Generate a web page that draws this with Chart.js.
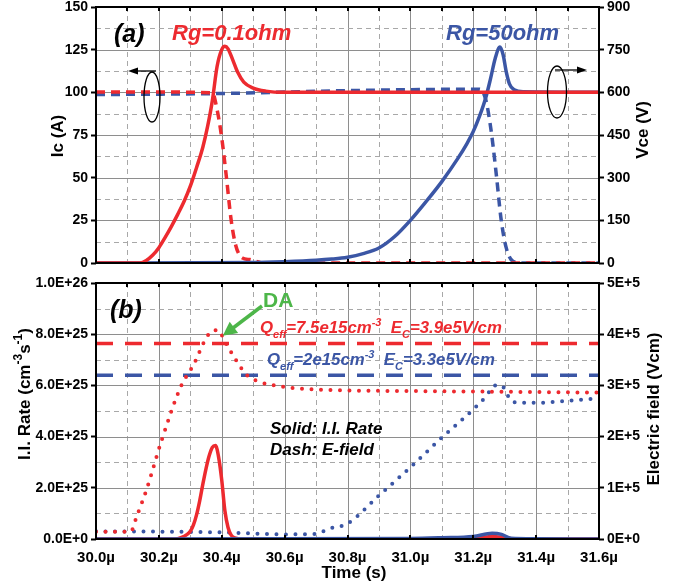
<!DOCTYPE html>
<html>
<head>
<meta charset="utf-8">
<script src="https://cdn.jsdelivr.net/npm/chart.js@4.4.0/dist/chart.umd.min.js"></script>
<style>
  html, body { margin: 0; padding: 0; background: #fff; }
  #wrap { position: relative; width: 679px; height: 586px; }
  canvas { position: absolute; left: 0; }
  #cTop { top: 0; }
  #cBot { top: 270px; }
</style>
</head>
<body>
<div id="wrap">
  <canvas id="cTop" width="679" height="270"></canvas>
  <canvas id="cBot" width="679" height="316"></canvas>
</div>
<script>
const red = '#ED2A2F';
const blue = '#3B56A5';
const green = '#4DB649';
const FONT = '"Liberation Sans", Arial, sans-serif';

// ---- axes / ticks
const timeTicks = [30.0, 30.2, 30.4, 30.6, 30.8, 31.0, 31.2, 31.4, 31.6];
const timeLabels = ['30.0µ', '30.2µ', '30.4µ', '30.6µ', '30.8µ', '31.0µ', '31.2µ', '31.4µ', '31.6µ'];
const timeGrid = [30.1, 30.2, 30.3, 30.4, 30.5, 30.6, 30.7, 30.8, 30.9, 31.0, 31.1, 31.2, 31.3, 31.4, 31.5];
const icTicks = [0, 25, 50, 75, 100, 125, 150];
const icGrid = [12.5, 25, 37.5, 50, 62.5, 75, 87.5, 100, 112.5, 125, 137.5];
const vceTicks = [0, 150, 300, 450, 600, 750, 900];
const rateTicks = [0, 2, 4, 6, 8, 10];            // x 1E+25
const rateLabels = ['0.0E+0', '2.0E+25', '4.0E+25', '6.0E+25', '8.0E+25', '1.0E+26'];
const rateGrid = [1, 2, 3, 4, 5, 6, 7, 8, 9];
const fieldTicks = [0, 1, 2, 3, 4, 5];             // x 1E+5
const fieldLabels = ['0E+0', '1E+5', '2E+5', '3E+5', '4E+5', '5E+5'];

// ---- panel (a): Ic (A) and Vce (V), time in µs
const icTimeA = [30.0, 30.14, 30.16, 30.18, 30.2, 30.22, 30.24, 30.26, 30.28, 30.3, 30.32, 30.34, 30.355, 30.37, 30.385, 30.4, 30.41, 30.42, 30.435, 30.45, 30.47, 30.5, 30.54, 30.6, 31.6];
const icA     = [0, 0, 1.5, 4.5, 9, 15, 21.5, 28.5, 36, 45, 56, 68, 80, 95, 115, 125, 127, 125.5, 119, 112, 106, 102.5, 100.7, 100, 100];
const vceTimeA = [30.0, 30.2, 30.37, 30.385, 30.4, 30.415, 30.43, 30.445, 30.465, 30.49, 30.51, 30.53, 31.6];
const vceA     = [601, 601, 598, 540, 440, 300, 150, 60, 18, 12, 6, 0, 0];
const icTimeB = [30.0, 30.5, 30.6, 30.7, 30.75, 30.8, 30.85, 30.9, 30.95, 31.0, 31.05, 31.1, 31.15, 31.18, 31.2, 31.22, 31.24, 31.255, 31.27, 31.285, 31.295, 31.305, 31.315, 31.33, 31.36, 31.6];
const icB     = [0, 0.3, 0.8, 1.6, 2.3, 3.4, 5.5, 8.8, 15.5, 25, 36, 47.7, 61, 70, 77, 86, 97, 108, 120, 126.5, 122, 112, 105, 101.5, 100.3, 100];
const vceTimeB = [30.0, 30.4, 30.8, 31.22, 31.24, 31.258, 31.274, 31.289, 31.305, 31.326, 31.35, 31.6];
const vceB     = [592, 596, 606, 611, 573, 456, 304, 150, 53, 6, 0, 0];

// ---- panel (b): I.I. rate (x1E+25) and E-field (x1E+5)
const rateTimeA = [30.0, 30.25, 30.27, 30.29, 30.3, 30.31, 30.32, 30.33, 30.34, 30.35, 30.36, 30.37, 30.38, 30.39, 30.4, 30.41, 30.42, 30.43, 30.445, 30.46, 31.15, 31.22, 31.26, 31.3, 31.33, 31.6];
const rateA     = [0, 0, 0.05, 0.18, 0.3, 0.55, 0.95, 1.5, 2.15, 2.75, 3.25, 3.58, 3.65, 3.2, 2.3, 1.1, 0.45, 0.15, 0.03, 0, 0, 0.05, 0.1, 0.05, 0, 0];
const rateTimeB = [30.0, 31.0, 31.1, 31.2, 31.26, 31.29, 31.32, 31.4, 31.6];
const rateB     = [0, 0.02, 0.05, 0.1, 0.22, 0.18, 0.03, 0.01, 0];
const fieldTimeA = [30.0, 30.11, 30.13, 30.16, 30.21, 30.27, 30.31, 30.35, 30.37, 30.39, 30.405, 30.42, 30.45, 30.48, 30.52, 30.6, 30.7, 30.8, 31.0, 31.2, 31.4, 31.6];
const fieldA     = [0.14, 0.14, 0.45, 0.95, 1.95, 2.98, 3.4, 3.92, 4.07, 4.08, 3.92, 3.75, 3.45, 3.2, 3.07, 2.97, 2.92, 2.9, 2.89, 2.88, 2.87, 2.86];
const fieldTimeB = [30.0, 30.4, 30.6, 30.7, 30.74, 30.8, 30.9, 31.0, 31.1, 31.2, 31.24, 31.27, 31.29, 31.31, 31.33, 31.4, 31.5, 31.6];
const fieldB     = [0.15, 0.13, 0.09, 0.1, 0.2, 0.3, 0.85, 1.4, 1.98, 2.53, 2.78, 3.0, 3.0, 2.8, 2.67, 2.66, 2.7, 2.75];
const critTime = [30.0, 31.6];
const critA = [3.82, 3.82];   // Ec = 3.9e5 V/cm
const critB = [3.2, 3.2];     // Ec = 3.3e5 V/cm

const pts = (xs, ys) => xs.map((x, i) => ({ x: x, y: ys[i] }));

const tickFont = { family: FONT, size: 14, weight: 'bold' };

function yScale(pos, min, max, ticks, labels, width) {
  return {
    type: 'linear', position: pos, min: min, max: max,
    afterBuildTicks: s => { s.ticks = ticks.map(v => ({ value: v })); },
    afterFit: s => { s.width = width; s.paddingTop = 0; s.paddingBottom = 0; },
    ticks: { font: tickFont, color: '#000', padding: 3,
             callback: (v, i) => labels ? labels[i] : String(v) },
    grid: { drawOnChartArea: false, drawTicks: true, tickLength: 5, tickWidth: 2, tickColor: '#000' },
    border: { display: false }
  };
}

// text with sub/superscripts
function rich(ctx, parts, x, y, size) {
  const small = Math.round(size * 0.68);
  const f = s => 'italic bold ' + s + 'px ' + FONT;
  let cx = x;
  ctx.textAlign = 'left';
  ctx.textBaseline = 'alphabetic';
  parts.forEach(p => {
    ctx.font = f(p[1] === 'n' ? size : small);
    const dy = p[1] === 'sup' ? -size * 0.42 : p[1] === 'sub' ? size * 0.28 : 0;
    ctx.fillText(p[0], cx, y + dy);
    cx += ctx.measureText(p[0]).width;
  });
}

function drawGrid(chart, yId, yGrid) {
  const { ctx, chartArea: a, scales } = chart;
  ctx.save();
  ctx.lineWidth = 1;
  timeGrid.forEach((t, i) => {
    const x = Math.round(scales.x.getPixelForValue(t)) + 0.5;
    const major = i % 2 === 1;
    ctx.strokeStyle = major ? '#8e8e8e' : '#a8a8a8';
    ctx.setLineDash(major ? [] : [5, 4]);
    ctx.beginPath(); ctx.moveTo(x, a.top); ctx.lineTo(x, a.bottom); ctx.stroke();
  });
  yGrid.forEach((v, i) => {
    const y = Math.round(scales[yId].getPixelForValue(v)) + 0.5;
    const major = i % 2 === 1;
    ctx.strokeStyle = major ? '#8e8e8e' : '#a8a8a8';
    ctx.setLineDash(major ? [] : [5, 4]);
    ctx.beginPath(); ctx.moveTo(a.left, y); ctx.lineTo(a.right, y); ctx.stroke();
  });
  ctx.restore();
}

function drawFrame(chart) {
  const { ctx, chartArea: a, scales } = chart;
  ctx.save();
  ctx.strokeStyle = '#000';
  ctx.lineWidth = 2;
  ctx.setLineDash([]);
  ctx.strokeRect(a.left, a.top, a.right - a.left, a.bottom - a.top);
  timeGrid.forEach((t, i) => {
    const x = Math.round(scales.x.getPixelForValue(t));
    ctx.beginPath(); ctx.moveTo(x, a.top); ctx.lineTo(x, a.top + 4); ctx.stroke();
    if (i % 2 === 1) { ctx.beginPath(); ctx.moveTo(x, a.bottom); ctx.lineTo(x, a.bottom - 4); ctx.stroke(); }
  });
  ctx.restore();
}

function vTitle(ctx, parts, x, y, size) {
  ctx.save();
  ctx.translate(x, y);
  ctx.rotate(-Math.PI / 2);
  ctx.fillStyle = '#000';
  const small = Math.round(size * 0.72);
  const f = p => 'bold ' + (p[1] === 'n' ? size : small) + 'px ' + FONT;
  let w = 0;
  parts.forEach(p => { ctx.font = f(p); w += ctx.measureText(p[0]).width; });
  let cx = -w / 2;
  ctx.textAlign = 'left';
  ctx.textBaseline = 'middle';
  parts.forEach(p => {
    ctx.font = f(p);
    ctx.fillText(p[0], cx, p[1] === 'sup' ? -size * 0.38 : 0);
    cx += ctx.measureText(p[0]).width;
  });
  ctx.restore();
}

function loopArrow(ctx, cx, cy, rx, ry, x0, x1, ay) {
  ctx.save();
  ctx.strokeStyle = '#000';
  ctx.fillStyle = '#000';
  ctx.lineWidth = 1.3;
  ctx.beginPath(); ctx.ellipse(cx, cy, rx, ry, 0, 0, Math.PI * 2); ctx.stroke();
  ctx.beginPath(); ctx.moveTo(x0, ay); ctx.lineTo(x1, ay); ctx.stroke();
  const d = Math.sign(x1 - x0);
  ctx.beginPath();
  ctx.moveTo(x1 + d * 3, ay);
  ctx.lineTo(x1 - d * 7, ay - 3.5);
  ctx.lineTo(x1 - d * 7, ay + 3.5);
  ctx.closePath(); ctx.fill();
  ctx.restore();
}

const baseOpts = {
  responsive: false,
  animation: false,
  elements: { point: { radius: 0 }, line: { cubicInterpolationMode: 'monotone', fill: false } },
  plugins: { legend: { display: false }, tooltip: { enabled: false } }
};

// ---------------- panel (a)
new Chart(document.getElementById('cTop'), {
  type: 'line',
  data: {
    datasets: [
      { data: pts(icTimeA, icA), yAxisID: 'yL', borderColor: red, borderWidth: 3.5, order: 1 },
      { data: pts(icTimeB, icB), yAxisID: 'yL', borderColor: blue, borderWidth: 3.5, order: 2 },
      { data: pts(vceTimeA, vceA), yAxisID: 'yR', borderColor: red, borderWidth: 3.5, borderDash: [9, 6], order: 3 },
      { data: pts(vceTimeB, vceB), yAxisID: 'yR', borderColor: blue, borderWidth: 3.5, borderDash: [9, 6], order: 4 }
    ]
  },
  options: Object.assign({}, baseOpts, {
    layout: { padding: { top: 7 } },
    scales: {
      x: { type: 'linear', min: 30, max: 31.6,
           ticks: { display: false }, grid: { display: false }, border: { display: false },
           afterFit: s => { s.height = 7; } },
      yL: yScale('left', 0, 150, icTicks, null, 96),
      yR: yScale('right', 0, 900, vceTicks, null, 80)
    }
  }),
  plugins: [{
    id: 'deco',
    beforeDatasetsDraw: c => drawGrid(c, 'yL', icGrid),
    afterDatasetsDraw: c => {
      const ctx = c.ctx;
      drawFrame(c);
      ctx.save();
      ctx.textBaseline = 'alphabetic';
      ctx.textAlign = 'left';
      ctx.font = 'italic bold 25px ' + FONT;
      ctx.fillStyle = '#000';
      ctx.fillText('(a)', 114, 42);
      ctx.font = 'italic bold 22px ' + FONT;
      ctx.fillStyle = red;
      ctx.fillText('Rg=0.1ohm', 172, 40);
      ctx.fillStyle = blue;
      ctx.fillText('Rg=50ohm', 446, 40);
      ctx.restore();
      loopArrow(ctx, 152, 97, 8, 25, 156, 131, 71);
      loopArrow(ctx, 557, 92, 9.5, 26, 555, 584, 70);
      vTitle(ctx, [['Ic (A)', 'n']], 58, 136, 17);
      vTitle(ctx, [['Vce (V)', 'n']], 643, 130, 17);
    }
  }]
});

// ---------------- panel (b)
new Chart(document.getElementById('cBot'), {
  type: 'line',
  data: {
    datasets: [
      { data: pts(rateTimeA, rateA), yAxisID: 'yL', borderColor: red, borderWidth: 3.5, order: 2 },
      { data: pts(rateTimeB, rateB), yAxisID: 'yL', borderColor: blue, borderWidth: 3.5, order: 1 },
      { data: pts(fieldTimeA, fieldA), yAxisID: 'yR', borderColor: red, borderWidth: 4, borderDash: [0, 9.5], borderCapStyle: 'round', order: 3 },
      { data: pts(fieldTimeB, fieldB), yAxisID: 'yR', borderColor: blue, borderWidth: 4, borderDash: [0, 9.5], borderCapStyle: 'round', order: 4 },
      { data: pts(critTime, critA), yAxisID: 'yR', borderColor: red, borderWidth: 3.5, borderDash: [17, 12], order: 5 },
      { data: pts(critTime, critB), yAxisID: 'yR', borderColor: blue, borderWidth: 3.5, borderDash: [17, 12], order: 6 }
    ]
  },
  options: Object.assign({}, baseOpts, {
    layout: { padding: { top: 13 } },
    scales: {
      x: { type: 'linear', min: 30, max: 31.6,
           afterBuildTicks: s => { s.ticks = timeTicks.map(v => ({ value: v })); },
           afterFit: s => { s.height = 47; s.paddingLeft = 0; s.paddingRight = 0; },
           ticks: { font: { family: FONT, size: 15, weight: 'bold' }, color: '#000', padding: 2, maxRotation: 0,
                    callback: (v, i) => timeLabels[i] },
           grid: { display: false }, border: { display: false } },
      yL: yScale('left', 0, 10, rateTicks, rateLabels, 96),
      yR: yScale('right', 0, 5, fieldTicks, fieldLabels, 80)
    }
  }),
  plugins: [{
    id: 'deco',
    beforeDatasetsDraw: c => drawGrid(c, 'yL', rateGrid),
    afterDatasetsDraw: c => {
      const ctx = c.ctx;
      drawFrame(c);
      ctx.save();
      ctx.textBaseline = 'alphabetic';
      ctx.textAlign = 'left';
      ctx.font = 'italic bold 25px ' + FONT;
      ctx.fillStyle = '#000';
      ctx.fillText('(b)', 110, 48);
      ctx.font = 'bold 21px ' + FONT;
      ctx.fillStyle = green;
      ctx.fillText('DA', 263, 37);
      // green arrow onto the red E-field peak
      const tx = c.scales.x.getPixelForValue(30.4) + 1;
      const ty = c.scales.yR.getPixelForValue(3.93) - 2;
      ctx.strokeStyle = green;
      ctx.lineWidth = 3.5;
      const sx = 262, sy = 36;
      const ang = Math.atan2(ty - sy, tx - sx);
      ctx.beginPath();
      ctx.moveTo(sx, sy);
      ctx.lineTo(tx - 10 * Math.cos(ang), ty - 10 * Math.sin(ang));
      ctx.stroke();
      ctx.beginPath();
      ctx.moveTo(tx, ty);
      ctx.lineTo(tx - 14 * Math.cos(ang) + 7 * Math.sin(ang), ty - 14 * Math.sin(ang) - 7 * Math.cos(ang));
      ctx.lineTo(tx - 14 * Math.cos(ang) - 7 * Math.sin(ang), ty - 14 * Math.sin(ang) + 7 * Math.cos(ang));
      ctx.closePath();
      ctx.fillStyle = green;
      ctx.fill();
      ctx.fillStyle = red;
      rich(ctx, [['Q', 'n'], ['eff', 'sub'], ['=7.5e15cm', 'n'], ['-3', 'sup'], ['  E', 'n'], ['C', 'sub'], ['=3.9e5V/cm', 'n']], 260, 63, 16.8);
      ctx.fillStyle = blue;
      rich(ctx, [['Q', 'n'], ['eff', 'sub'], ['=2e15cm', 'n'], ['-3', 'sup'], ['  E', 'n'], ['C', 'sub'], ['=3.3e5V/cm', 'n']], 267, 95, 16.8);
      ctx.fillStyle = '#000';
      ctx.font = 'italic bold 17px ' + FONT;
      ctx.fillText('Solid: I.I. Rate', 270, 164);
      ctx.fillText('Dash: E-field', 270, 185);
      ctx.font = 'bold 17px ' + FONT;
      ctx.textAlign = 'center';
      ctx.fillText('Time (s)', 354, 308);
      ctx.restore();
      vTitle(ctx, [['I.I. Rate (cm', 'n'], ['-3', 'sup'], ['s', 'n'], ['-1', 'sup'], [')', 'n']], 25, 124, 17);
      vTitle(ctx, [['Electric field (Vcm)', 'n']], 654, 139, 17);
    }
  }]
});
</script>
</body>
</html>
